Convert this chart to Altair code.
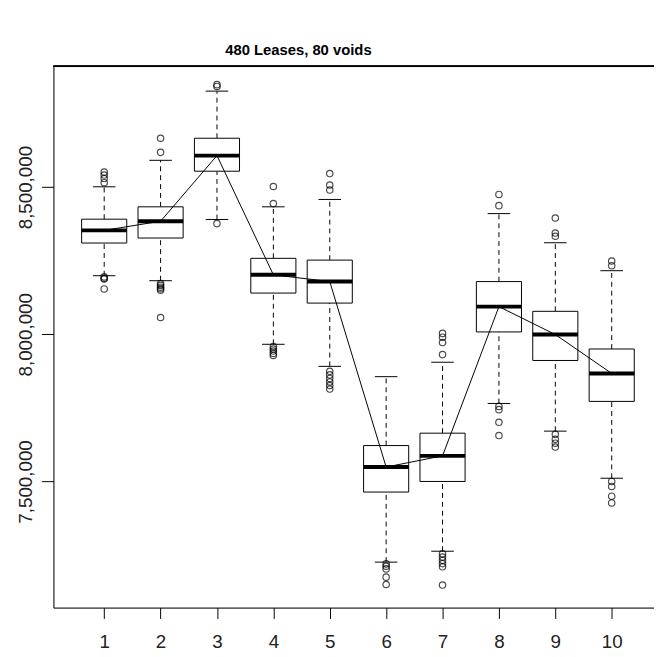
import altair as alt
import pandas as pd

# ---- data ----
groups = [1, 2, 3, 4, 5, 6, 7, 8, 9, 10]
whisker_low = [8199000, 8182000, 8390000, 7966000, 7891000, 7226000, 7263000, 7765000, 7671000, 7511000]
q1 = [8310000, 8327000, 8554000, 8140000, 8106000, 7464000, 7500000, 8008000, 7911000, 7772000]
median = [8353000, 8384000, 8607000, 8202000, 8179000, 7549000, 7587000, 8094000, 7999000, 7867000]
q3 = [8391000, 8433000, 8666000, 8258000, 8252000, 7622000, 7664000, 8179000, 8078000, 7950000]
whisker_high = [8501000, 8591000, 8826000, 8433000, 8458000, 7856000, 7905000, 8410000, 8311000, 8216000]
outliers = [
    [8551000, 8541000, 8529000, 8515000, 8195000, 8190000, 8188000, 8154000],
    [8666000, 8618000, 8172000, 8166000, 8160000, 8155000, 8150000, 8057000],
    [8848000, 8842000, 8376000],
    [8502000, 8444000, 7958000, 7950000, 7943000, 7935000, 7928000],
    [8546000, 8507000, 8490000, 7874000, 7862000, 7850000, 7838000, 7826000, 7814000],
    [7220000, 7212000, 7203000, 7175000, 7150000],
    [8003000, 7990000, 7972000, 7931000, 7254000, 7243000, 7232000, 7221000, 7210000, 7148000],
    [8475000, 8437000, 7755000, 7744000, 7701000, 7656000],
    [8395000, 8344000, 8333000, 7660000, 7643000, 7630000, 7617000],
    [8249000, 8233000, 7500000, 7483000, 7450000, 7427000],
]
title_text = "480 Leases, 80 voids"
y_ticks = [7500000, 8000000, 8500000]

# ---- tables ----
box = pd.DataFrame({
    "g": groups, "lo": whisker_low, "q1": q1, "med": median, "q3": q3, "hi": whisker_high,
})
box["left"] = box["g"] - 0.4
box["right"] = box["g"] + 0.4
box["capl"] = box["g"] - 0.2
box["capr"] = box["g"] + 0.2
out = pd.DataFrame([{"g": g, "v": v} for g, vals in zip(groups, outliers) for v in vals])

W, H = 608, 548
FONT = "Liberation Sans"
xs = alt.Scale(domain=[0.1, 10.75], nice=False, zero=False)
ys = alt.Scale(domain=[7071500, 8910400], nice=False, zero=False)

base = alt.Chart(box)

xaxis = alt.Axis(values=groups, format="d", grid=False, domainColor="black", tickColor="black",
                 tickSize=11, labelFont=FONT, labelFontSize=19, labelColor="#222",
                 labelPadding=14, labelBaseline="top", title=None, labelFlush=False)
yaxis = alt.Axis(values=y_ticks, format=",.0f", grid=False, domainColor="black", tickColor="black",
                 tickSize=12, labelFont=FONT, labelFontSize=19, labelColor="#222",
                 labelAngle=-90, labelAlign="center", labelBaseline="alphabetic",
                 labelPadding=10, title=None)

whisk_up = base.mark_rule(color="black", strokeWidth=1, strokeDash=[5, 4]).encode(
    x=alt.X("g:Q", scale=xs, axis=xaxis),
    y=alt.Y("q3:Q", scale=ys, axis=yaxis),
    y2="hi:Q",
)
whisk_dn = base.mark_rule(color="black", strokeWidth=1, strokeDash=[5, 4]).encode(
    x=alt.X("g:Q", scale=xs), y=alt.Y("lo:Q", scale=ys), y2="q1:Q",
)
cap_hi = base.mark_rule(color="black", strokeWidth=1).encode(
    x=alt.X("capl:Q", scale=xs), x2="capr:Q", y=alt.Y("hi:Q", scale=ys),
)
cap_lo = base.mark_rule(color="black", strokeWidth=1).encode(
    x=alt.X("capl:Q", scale=xs), x2="capr:Q", y=alt.Y("lo:Q", scale=ys),
)
boxes = base.mark_rect(fill="white", stroke="black", strokeWidth=1).encode(
    x=alt.X("left:Q", scale=xs), x2="right:Q", y=alt.Y("q1:Q", scale=ys), y2="q3:Q",
)
meds = base.mark_rule(color="black", strokeWidth=4).encode(
    x=alt.X("left:Q", scale=xs), x2="right:Q", y=alt.Y("med:Q", scale=ys),
)
medline = base.mark_line(color="black", strokeWidth=1).encode(
    x=alt.X("g:Q", scale=xs), y=alt.Y("med:Q", scale=ys),
)
pts = alt.Chart(out).mark_point(shape="circle", filled=False, color="black", size=42, strokeWidth=1.2).encode(
    x=alt.X("g:Q", scale=xs), y=alt.Y("v:Q", scale=ys),
)
top_line = alt.Chart(box).mark_rule(color="black", strokeWidth=1).encode(
    x=alt.value(0), x2=alt.value(W), y=alt.value(0),
)
title = alt.Chart(pd.DataFrame({"t": [title_text]})).mark_text(
    font=FONT, fontSize=15, fontWeight="bold", color="black", baseline="middle", align="center"
).encode(text="t:N", x=alt.value(248), y=alt.value(-16))

chart = alt.layer(
    whisk_up, whisk_dn, cap_hi, cap_lo, boxes, medline, meds, pts, top_line, title
).properties(
    width=W, height=H,
    autosize=alt.AutoSizeParams(type="none"),
    padding={"left": 46, "top": 55, "right": 0, "bottom": 46},
).configure_view(stroke=None).configure(background="white")

chart.save("out.html", embed_options={"renderer": "svg", "actions": False})
